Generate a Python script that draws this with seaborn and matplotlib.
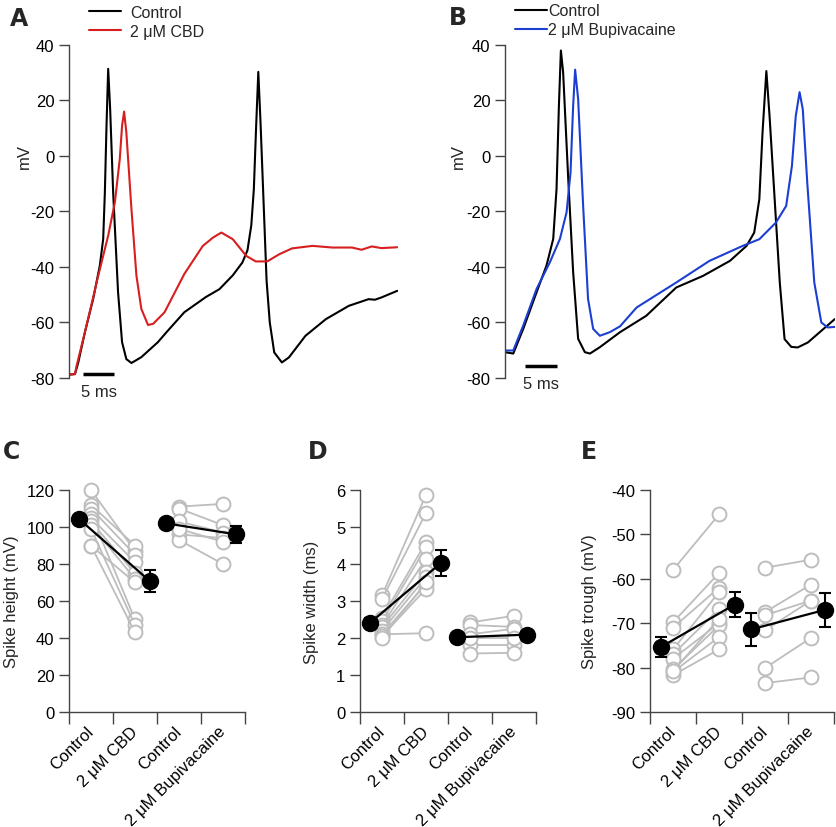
import numpy as np
import pandas as pd
import seaborn as sns
import matplotlib.pyplot as plt

# ---- traces (time in ms, membrane potential in mV) ----
a_ctrl_t = [0, 0.94, 1.46, 2.5, 3.8, 4.84, 5.37, 5.63, 5.89, 6.15, 6.46, 6.93, 7.7, 8.33, 9.0, 9.8,
            11.35, 13.95, 15.3, 18.1, 21.5, 23.6, 25.7, 27.2, 28.0, 28.6, 29.0, 29.35, 29.7,
            30.05, 30.5, 31.0, 31.5, 32.2, 33.4, 34.5, 37.1, 40.3, 43.9, 47.0, 48.0, 49.0, 51.5]
a_ctrl_v = [-78.8, -78.6, -74.4, -63.5, -51.5, -39.5, -29.9, -13.1, 11, 31.4, 16.9, -13.1, -49.1, -67.1, -73.2, -74.6,
            -72.5, -67.1, -63.5, -56.3, -50.8, -48, -43, -38.4, -34, -25, -12, 10, 30.3,
            12, -15, -45, -60, -70.8, -74.4, -72.6, -64.8, -58.8, -54, -51.6, -51.8, -51, -48.6]
a_cbd_t = [0, 0.94, 1.2, 2.5, 4.6, 6.15, 7.2, 7.97, 8.33, 8.65, 9.0, 9.8, 10.58, 11.35, 12.4, 13.2,
           15.0, 18.1, 21.0, 22.6, 23.9, 25.7, 27.8, 29.3, 31.1, 33.0, 35.0, 38.2, 41.3, 44.4,
           45.9, 47.5, 49.0, 51.5]
a_cbd_v = [-78.8, -78.6, -75.6, -63.5, -43.1, -28.7, -16.7, -1.1, 10.9, 16, 8.5, -19.1, -43.1, -55.1, -60.9, -60.5,
           -56.3, -42.5, -32.4, -29.4, -27.6, -30, -36, -38, -38, -35.4, -33.3, -32.4, -33, -33,
           -33.8, -32.6, -33.2, -32.9]

b_ctrl_t = [0, 1.3, 2.86, 4.95, 6.5, 7.55, 8.07, 8.44, 8.75, 9.1, 9.9, 10.67, 11.45, 12.5, 13.3, 14.85,
            18.0, 22.1, 26.8, 31.0, 35.2, 37.8, 39.0, 39.8, 40.3, 40.9, 41.4, 42.2, 43.0,
            43.75, 44.8, 45.8, 47.4, 49.2, 51.6]
b_ctrl_v = [-70.7, -71.2, -62.3, -49.1, -39.5, -29.9, -11.9, 18.1, 38, 30.2, -8.3, -41.9, -65.9, -70.7, -71.2, -68.9,
            -63.5, -57.6, -47.4, -43.2, -37.8, -32.4, -27.6, -15.6, 8.4, 30.6, 14.4, -15.6, -45.6,
            -66, -68.8, -69, -67.2, -63.6, -58.8]
b_bupi_t = [0, 1.3, 2.86, 4.95, 7.03, 8.6, 9.64, 10.26, 10.67, 10.98, 11.45, 12.23, 13.0, 13.8, 14.85, 16.4,
            18.0, 20.6, 26.8, 32.0, 37.2, 39.8, 42.4, 44.0, 44.9, 45.5, 46.1, 46.6, 47.3, 48.4,
            49.5, 50.5, 51.6]
b_bupi_v = [-70.1, -70.1, -61.1, -47.9, -38.3, -29.9, -20.3, -5.9, 18.1, 31.1, 20.5, -17.9, -51.5, -62.3, -64.8, -63.5,
            -61.4, -54.6, -45.6, -37.8, -32.4, -30, -24, -18, -3.6, 14.4, 23, 16.8, -9.6, -45.6,
            -60, -61.8, -61.6]

# ---- paired cell data ----
groups = ['Control', '2 \u03bcM CBD', 'Control', '2 \u03bcM Bupivacaine']

height_cbd_ctrl = [120, 112, 110, 107, 105, 103, 101, 99, 90, 90]
height_cbd_drug = [87, 90, 85, 50, 81, 75, 72, 47, 43, 70]
height_bupi_ctrl = [111, 110, 103, 96, 93, 99]
height_bupi_drug = [112.5, 101, 97, 94, 80, 92]
height_mean = [104.3, 70.7, 102.0, 96.0]
height_sem = [1.8, 5.8, 2.0, 4.5]

width_cbd_ctrl = [3.15, 3.05, 2.55, 2.45, 2.35, 2.3, 2.2, 2.1, 2.05, 2.0, 2.1]
width_cbd_drug = [5.87, 5.38, 4.59, 4.45, 4.14, 3.78, 3.64, 3.46, 3.33, 3.5, 2.13]
width_bupi_ctrl = [2.42, 2.35, 2.1, 1.8, 1.58, 2.0]
width_bupi_drug = [2.6, 2.3, 2.25, 1.8, 1.6, 2.0]
width_mean = [2.41, 4.03, 2.02, 2.09]
width_sem = [0.12, 0.35, 0.1, 0.1]

trough_cbd_ctrl = [-58, -69.8, -71, -75.9, -77, -78, -80.4, -81, -81.7, -80.8]
trough_cbd_drug = [-45.5, -58.7, -62, -63, -66.8, -70, -70.5, -73.1, -75.9, -69]
trough_bupi_ctrl = [-57.5, -67.5, -68.2, -71.6, -80.1, -83.5]
trough_bupi_drug = [-55.7, -61.3, -64.9, -64.9, -73.3, -82.2]
trough_mean = [-75.4, -65.8, -71.4, -67.0]
trough_sem = [2.3, 2.8, 3.8, 3.8]

mean_offset = [-0.27, 0.34, -0.3, 0.3]

RED = '#D81E1E'
BLUE = '#1C3FD2'
GREY = '#BDBDBD'
SPINE = '#444444'
FS = 12

sns.set_style('ticks')
plt.rcParams['font.family'] = ['Liberation Sans', 'DejaVu Sans']
plt.rcParams['font.size'] = FS
plt.rcParams['axes.unicode_minus'] = False

fig = plt.figure(figsize=(8.37, 8.28), dpi=100)


def style_axis(ax):
    sns.despine(ax=ax)
    for s in ['left', 'bottom']:
        ax.spines[s].set_color(SPINE)
        ax.spines[s].set_linewidth(1.0)
    ax.tick_params(axis='both', which='both', color=SPINE, width=1.0, length=7.5,
                   labelsize=FS, labelcolor='black', pad=3)


def trace_panel(rect, t1, v1, lab1, t2, v2, lab2, col2, bar_t, bar_v, leg_xy, leg_pad, ylab_x):
    ax = fig.add_axes(rect)
    sns.lineplot(x=t1, y=v1, sort=False, estimator=None, color='black', lw=1.5, ax=ax, label=lab1)
    sns.lineplot(x=t2, y=v2, sort=False, estimator=None, color=col2, lw=1.5, ax=ax, label=lab2)
    ax.set_xlim(0, 51.6)
    ax.set_ylim(-80, 40)
    ax.set_yticks(np.arange(-80, 41, 20))
    style_axis(ax)
    ax.spines['bottom'].set_visible(False)
    ax.set_xticks([])
    ax.set_xlabel('')
    ax.set_ylabel('mV', fontsize=FS)
    ax.yaxis.set_label_coords(ylab_x, 0.667)
    ax.plot([bar_t, bar_t + 5], [bar_v, bar_v], color='black', lw=2.5, clip_on=False,
            solid_capstyle='butt')
    ax.text(bar_t + 2.5, bar_v - 3.6, '5 ms', ha='center', va='top', fontsize=FS)
    ax.legend(loc='upper left', bbox_to_anchor=leg_xy, bbox_transform=fig.transFigure,
              frameon=False, borderpad=0, borderaxespad=0, handlelength=2.0,
              handletextpad=leg_pad, labelspacing=0.25, fontsize=11.5)
    return ax


trace_panel([0.0824, 0.5423, 0.393, 0.4022], a_ctrl_t, a_ctrl_v, 'Control',
            a_cbd_t, a_cbd_v, '2 \u03bcM CBD', RED, 2.14, -78.6, (0.106, 0.993), 0.6, -0.112)
trace_panel([0.6033, 0.5423, 0.394, 0.4022], b_ctrl_t, b_ctrl_v, 'Control',
            b_bupi_t, b_bupi_v, '2 \u03bcM Bupivacaine', BLUE, 3.18, -75.7, (0.615, 0.995), 0.1, -0.118)


def paired_panel(rect, ctrl1, drug1, ctrl2, drug2, means, sems, ylim, yticks, ylabel, ylab_x):
    ax = fig.add_axes(rect)
    rows = []
    for i, (c, d) in enumerate(zip(ctrl1, drug1)):
        rows += [('a%d' % i, 0, c), ('a%d' % i, 1, d)]
    for i, (c, d) in enumerate(zip(ctrl2, drug2)):
        rows += [('b%d' % i, 2, c), ('b%d' % i, 3, d)]
    df = pd.DataFrame(rows, columns=['cell', 'pos', 'value'])
    sns.lineplot(data=df, x='pos', y='value', units='cell', estimator=None, color=GREY,
                 lw=1.3, marker='o', markersize=10, markerfacecolor='white',
                 markeredgecolor=GREY, markeredgewidth=1.4, ax=ax, clip_on=False)
    mx = np.arange(4) + np.array(mean_offset)
    for k in (0, 2):
        ax.errorbar(mx[k:k + 2], means[k:k + 2], yerr=sems[k:k + 2], fmt='o-', color='black',
                    lw=1.6, ms=11.5, capsize=4.5, capthick=1.5, elinewidth=1.5,
                    clip_on=False, zorder=5)
    ax.set_xlim(-0.5, 3.5)
    ax.set_ylim(*ylim)
    ax.set_yticks(yticks)
    style_axis(ax)
    ax.set_xticks(np.arange(4))
    ax.set_xticklabels(groups, rotation=45, ha='right', va='center', rotation_mode='anchor',
                       fontsize=FS)
    ax.set_xticks(np.arange(-0.5, 3.6, 1), minor=True)
    ax.tick_params(axis='x', which='major', length=0, pad=12)
    ax.tick_params(axis='x', which='minor', length=8.5)
    ax.set_xlabel('')
    ax.set_ylabel(ylabel, fontsize=FS)
    ax.yaxis.set_label_coords(ylab_x, 0.5)
    return ax


paired_panel([0.0824, 0.1389, 0.2103, 0.2681], height_cbd_ctrl, height_cbd_drug,
             height_bupi_ctrl, height_bupi_drug, height_mean, height_sem,
             (0, 120), np.arange(0, 121, 20), 'Spike height (mV)', -0.284)
paired_panel([0.4301, 0.1389, 0.2103, 0.2681], width_cbd_ctrl, width_cbd_drug,
             width_bupi_ctrl, width_bupi_drug, width_mean, width_sem,
             (0, 6), np.arange(0, 7, 1), 'Spike width (ms)', -0.233)
paired_panel([0.7766, 0.1389, 0.2198, 0.2681], trough_cbd_ctrl, trough_cbd_drug,
             trough_bupi_ctrl, trough_bupi_drug, trough_mean, trough_sem,
             (-90, -40), np.arange(-90, -39, 10), 'Spike trough (mV)', -0.288)

# panel letters
for letter, x, y in [('A', 0.012, 0.991), ('B', 0.536, 0.993), ('C', 0.003, 0.469),
                     ('D', 0.368, 0.469), ('E', 0.694, 0.468)]:
    fig.text(x, y, letter, fontsize=17, fontweight='bold', ha='left', va='top',
             family='DejaVu Sans')

fig.savefig('out.png', dpi=100)
